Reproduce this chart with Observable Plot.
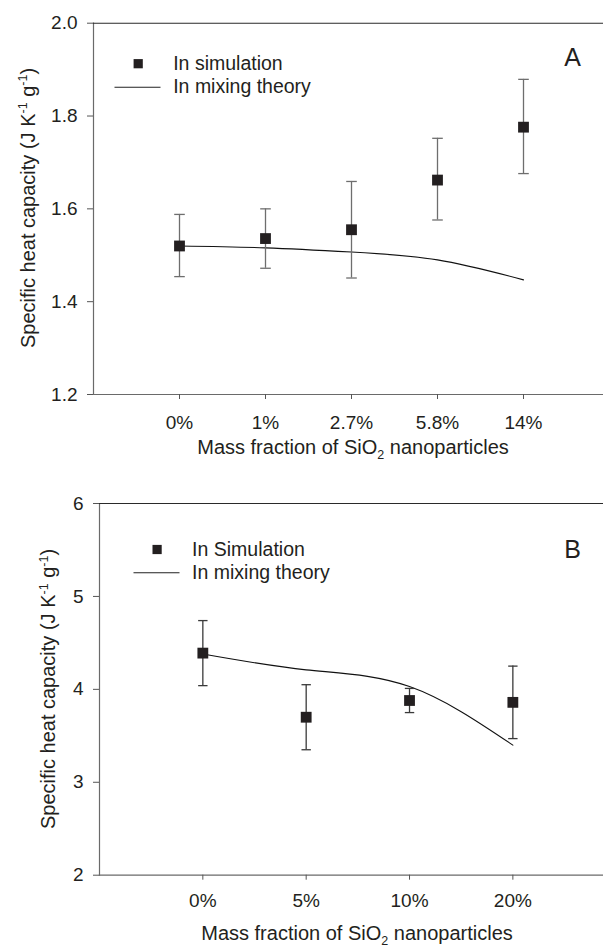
<!DOCTYPE html>
<html><head><meta charset="utf-8">
<script src="https://cdn.jsdelivr.net/npm/d3@7"></script>
<script src="https://cdn.jsdelivr.net/npm/@observablehq/plot@0.6"></script>
<style>
body{margin:0;background:#fff;overflow:hidden;}
#root svg{display:block;}
</style></head><body><div id="root"></div>
<script>
// Panel A data
const catsA = ["0%", "1%", "2.7%", "5.8%", "14%"];
const simA = [1.520, 1.536, 1.555, 1.662, 1.776];
const errHiA = [1.588, 1.600, 1.659, 1.752, 1.879];
const errLoA = [1.454, 1.472, 1.451, 1.576, 1.676];
const mixA = [1.520, 1.516, 1.507, 1.490, 1.447];
const yTicksA = [1.2, 1.4, 1.6, 1.8, 2.0];

// Panel B data
const catsB = ["0%", "5%", "10%", "20%"];
const simB = [4.39, 3.70, 3.88, 3.86];
const errHiB = [4.74, 4.05, 4.01, 4.25];
const errLoB = [4.04, 3.35, 3.75, 3.47];
const mixB = [4.38, 4.21, 4.03, 3.40];
const yTicksB = [2, 3, 4, 5, 6];

const FONT = "'Liberation Sans', Arial, Helvetica, sans-serif";
const INK = "#231f20";

function hline(half) {
  return { draw(ctx) { ctx.moveTo(-half, 0); ctx.lineTo(half, 0); } };
}

function panel(o) {
  const data = o.cats.map((c, i) => ({ i, sim: o.sim[i], hi: o.hi[i], lo: o.lo[i], mix: o.mix[i] }));
  const svg = Plot.plot({
    width: 603, height: o.height,
    marginLeft: o.marginLeft, marginRight: 0, marginTop: o.marginTop, marginBottom: o.marginBottom,
    style: { fontFamily: FONT, fontSize: "19px", color: INK, background: "#fff", overflow: "hidden" },
    x: { type: "linear", domain: [-1, o.cats.length], range: [o.marginLeft, o.xEnd] },
    y: { domain: o.yDomain },
    marks: [
      Plot.frame({ anchor: "left", stroke: "#6a6a6a", strokeWidth: 1.2 }),
      Plot.frame({ anchor: "top", stroke: "#2a2a2a", strokeWidth: 1.1 }),
      Plot.frame({ anchor: "bottom", stroke: "#6a6a6a", strokeWidth: 1.2 }),
      Plot.axisY({ ticks: o.yTicks, tickFormat: o.yFmt, tickSize: 6, tickPadding: 10, stroke: "#555", fill: INK, fontSize: 19, label: null }),
      Plot.axisX({ ticks: d3.range(o.cats.length), tickFormat: i => o.cats[i], tickSize: 5, tickPadding: o.xPad, stroke: "#555", fill: INK, fontSize: 19, label: null }),
      Plot.line(data, { x: "i", y: "mix", curve: "natural", stroke: "#111", strokeWidth: 1.1 }),
      Plot.ruleX(data, { x: "i", y1: "lo", y2: "hi", stroke: o.errColor, strokeWidth: 1.3 }),
      Plot.dot(data, { x: "i", y: "hi", symbol: hline(o.capHalf), fill: "none", stroke: o.errColor, strokeWidth: 1.3 }),
      Plot.dot(data, { x: "i", y: "lo", symbol: hline(o.capHalf), fill: "none", stroke: o.errColor, strokeWidth: 1.3 }),
      Plot.dot(data, { x: "i", y: "sim", symbol: "square", r: 6.1, fill: INK, stroke: "none" }),
      // legend
      Plot.dot([0], { frameAnchor: "top-left", dx: o.leg.sqDx, dy: o.leg.row1, symbol: "square", r: 5.2, fill: INK, stroke: "none" }),
      Plot.dot([0], { frameAnchor: "top-left", dx: o.leg.lnDx, dy: o.leg.row2, symbol: hline(23), fill: "none", stroke: "#222", strokeWidth: 1.1 }),
      Plot.text([o.simLabel], { frameAnchor: "top-left", dx: o.leg.txDx, dy: o.leg.row1, text: d => d, textAnchor: "start", lineAnchor: "middle", fontSize: 19.5, fill: INK }),
      Plot.text(["In mixing theory"], { frameAnchor: "top-left", dx: o.leg.txDx, dy: o.leg.row2, text: d => d, textAnchor: "start", lineAnchor: "middle", fontSize: 19.5, fill: INK }),
      Plot.text([o.letter], { frameAnchor: "top-right", dx: -31, dy: o.leg.letterDy, text: d => d, textAnchor: "middle", lineAnchor: "middle", fontSize: 25, fill: INK })
    ]
  });
  const s = d3.select(svg);
  // y axis label with superscripts
  const yl = s.append("text")
    .attr("transform", `translate(${o.yLab[0]},${o.yLab[1]}) rotate(-90)`)
    .attr("text-anchor", "middle").attr("y", 7)
    .attr("fill", INK).style("font-size", "20px").style("font-family", FONT);
  yl.append("tspan").text("Specific heat capacity (J K");
  yl.append("tspan").attr("dy", -7.5).style("font-size", "12.5px").text("-1");
  yl.append("tspan").attr("dy", 7.5).text(" g");
  yl.append("tspan").attr("dy", -7.5).style("font-size", "12.5px").text("-1");
  yl.append("tspan").attr("dy", 7.5).text(")");
  // x axis label with subscript
  const xl = s.append("text")
    .attr("x", o.xLab[0]).attr("y", o.xLab[1] + 7)
    .attr("text-anchor", "middle")
    .attr("fill", INK).style("font-size", "20px").style("font-family", FONT);
  xl.append("tspan").text("Mass fraction of SiO");
  xl.append("tspan").attr("dy", 5).style("font-size", "12.5px").text("2");
  xl.append("tspan").attr("dy", -5).text(" nanoparticles");
  return svg;
}

const root = document.getElementById("root");
root.appendChild(panel({
  cats: catsA, sim: simA, hi: errHiA, lo: errLoA, mix: mixA, yTicks: yTicksA,
  yDomain: [1.2, 2.0], yFmt: d3.format(".1f"),
  height: 473, marginLeft: 93, marginTop: 22.7, marginBottom: 79, xEnd: 609, xPad: 16,
  errColor: "#6e6e6e", capHalf: 5.3,
  simLabel: "In simulation", letter: "A",
  leg: { sqDx: 44.7, txDx: 79.7, lnDx: 44, row1: 40.5, row2: 64, letterDy: 34.6 },
  yLab: [27.7, 208], xLab: [353, 447]
}));
root.appendChild(panel({
  cats: catsB, sim: simB, hi: errHiB, lo: errLoB, mix: mixB, yTicks: yTicksB,
  yDomain: [2, 6], yFmt: d3.format("d"),
  height: 473, marginLeft: 99, marginTop: 30, marginBottom: 71.3, xEnd: 615.7, xPad: 13,
  errColor: "#3a3a3a", capHalf: 4.7,
  simLabel: "In Simulation", letter: "B",
  leg: { sqDx: 57.6, txDx: 92.6, lnDx: 57, row1: 46, row2: 69.3, letterDy: 46 },
  yLab: [48, 216], xLab: [357, 459.5]
}));
</script>
</body></html>
